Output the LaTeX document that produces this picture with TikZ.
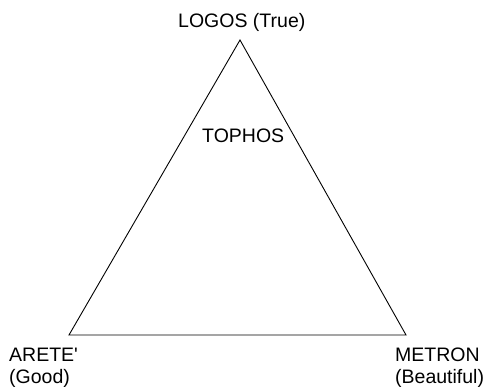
\documentclass[tikz,border=0pt]{standalone}
\usepackage{fontspec}
\setmainfont{Liberation Sans}
\usepackage{tikz}
\tikzset{
  sideedge/.style={line width=0.9pt,black},
  vertexlabel/.style={anchor=base west,inner sep=0pt,align=left,
    font=\fontsize{19.5}{22}\selectfont}
}

\begin{document}
\begin{tikzpicture}[x=1pt,y=-1pt]
  \useasboundingbox (0,0) rectangle (490,387);
  \coordinate (logos) at (240,40);
  \coordinate (arete) at (69,335);
  \coordinate (metron) at (406,335);
  \draw[sideedge] (logos)--(arete)--(metron)--cycle;
  % two-line labels sit on the baseline of their last line
  \node[vertexlabel] (logoslabel) at (178,28) {LOGOS (True)};
  \node[vertexlabel] (tophoslabel) at (202,143) {TOPHOS};
  \node[vertexlabel] (aretelabel) at (9,383) {ARETE\textquotesingle\\(Good)};
  \node[vertexlabel] (metronlabel) at (395,383) {METRON\\(Beautiful)};
\end{tikzpicture}
\end{document}
